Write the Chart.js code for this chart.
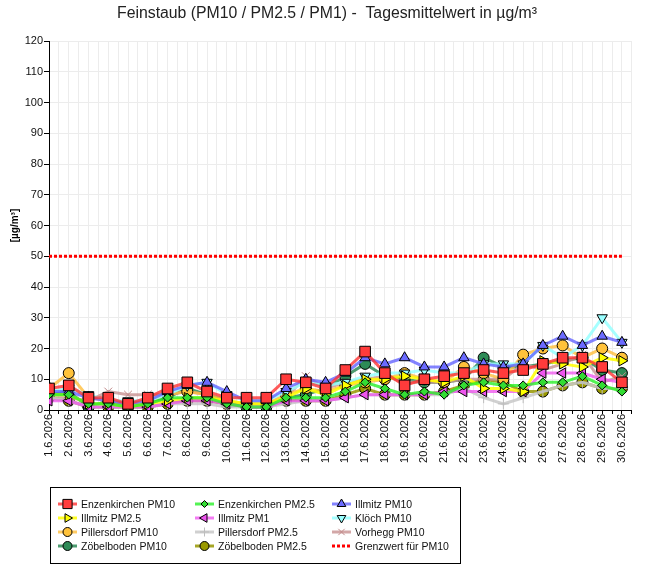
<!DOCTYPE html>
<html>
<head>
<meta charset="utf-8">
<title>Feinstaub</title>
<script src="https://cdn.jsdelivr.net/npm/chart.js@4.4.1/dist/chart.umd.min.js"></script>
<style>
    html, body { margin: 0; padding: 0; background: #fff; }
    #wrap { width: 645px; height: 576px; }
</style>
</head>
<body>
<div id="wrap"><canvas id="myChart" width="645" height="576"></canvas></div>
<script>
// Tick labels (one per day)
const dates = ['1.6.2026', '2.6.2026', '3.6.2026', '4.6.2026', '5.6.2026', '6.6.2026', '7.6.2026', '8.6.2026',
    '9.6.2026', '10.6.2026', '11.6.2026', '12.6.2026', '13.6.2026', '14.6.2026', '15.6.2026', '16.6.2026',
    '17.6.2026', '18.6.2026', '19.6.2026', '20.6.2026', '21.6.2026', '22.6.2026', '23.6.2026', '24.6.2026',
    '25.6.2026', '26.6.2026', '27.6.2026', '28.6.2026', '29.6.2026', '30.6.2026'];

// Tagesmittelwerte in µg/m³
const enzPM10 = [7, 8, 4, 4, 2, 4, 7, 9, 6, 4, 4, 4, 10, 9, 7, 13, 19, 12, 8, 10, 11, 12, 13, 12, 13, 15, 17, 17, 14, 9];
const enzPM25 = [5, 5, 2, 2, 1, 2, 4, 4, 4, 2, 1, 1, 4, 4, 4, 6, 9, 7, 5, 6, 5, 8, 9, 8, 8, 9, 9, 11, 8, 6];
const illPM10 = [6, 6, 4, 3, 2, 3, 6, 8, 9, 6, 3, 3, 7, 10, 9, 12, 17, 15, 17, 14, 14, 17, 15, 14, 15, 21, 24, 21, 24, 22];
const illPM25 = [5, 5, 2, 2, 1, 2, 3, 4, 4, 3, 2, 2, 4, 7, 5, 8, 10, 10, 11, 10, 9, 11, 7, 7, 6, 16, 15, 14, 17, 16];
const illPM1 = [3, 3, 1, 1, 1, 1, 2, 3, 3, 2, 1, 1, 3, 3, 3, 4, 5, 5, 5, 5, 6, 6, 6, 6, 6, 12, 12, 12, 10, 9];
const kloePM10 = [6, 7, 5, 3, 3, 3, 5, 8, 9, 5, 3, 3, 6, 9, 8, 9, 11, 12, 12, 13, 12, 12, 15, 15, 15, 21, 17, 21, 30, 22];
const pilPM10 = [7, 12, 4, 3, 2, 3, 5, 6, 5, 3, 2, 2, 5, 7, 6, 8, 9, 10, 12, 10, 9, 14, 12, 10, 18, 20, 21, 17, 20, 17];
const pilPM25 = [4, 3, 1, 1, 1, 1, 2, 2, 2, 1, 1, 1, 2, 3, 3, 4, 5, 5, 5, 5, 5, 7, 4, 2, 4, 6, 8, 9, 7, 7];
const vorPM10 = [4, 4, 3, 6, 5, 5, 5, 6, 5, 1, 2, 2, 4, 11, 7, 9, 10, 11, 9, 9, 9, 10, 10, 10, 15, 13, 15, 18, 9, 11];
const zoePM10 = [5, 6, 1, 3, 1, 2, 4, 7, 5, 3, 1, 1, 4, 5, 7, 11, 15, 11, 10, 9, 9, 10, 17, 14, 14, 15, 16, 17, 13, 12];
const zoePM25 = [4, 3, 1, 1, 1, 1, 2, 3, 3, 2, 1, 1, 3, 3, 3, 5, 7, 5, 5, 5, 6, 8, 10, 9, 6, 6, 8, 9, 7, 7];
const limitPM10 = 50;

const FONT = '"Liberation Sans", Arial, sans-serif';

function series(label, values, line, fill, style, radius, rotation, pointBorder) {
    return {
        label: label,
        data: values.map((v, i) => ({ x: i, y: v })),
        borderColor: line,
        backgroundColor: fill,
        borderWidth: 3,
        pointStyle: style,
        pointRadius: radius,
        pointRotation: rotation || 0,
        pointBackgroundColor: fill,
        pointBorderColor: pointBorder || '#000',
        pointBorderWidth: 1,
        tension: 0
    };
}

const datasets = [
    series('Enzenkirchen PM10', enzPM10, 'rgba(255,50,50,0.8)', '#ff3b3b', 'rect', 7.5),
    series('Enzenkirchen PM2.5', enzPM25, 'rgba(40,240,40,0.8)', '#33dd33', 'rectRot', 4.5),
    series('Illmitz PM10', illPM10, 'rgba(100,100,255,0.8)', '#6b6bff', 'triangle', 6),
    series('Illmitz PM2.5', illPM25, 'rgba(255,255,0,0.85)', '#ffff00', 'triangle', 6, 90),
    series('Illmitz PM1', illPM1, 'rgba(240,90,240,0.8)', '#ee55ee', 'triangle', 6, -90),
    series('Klöch PM10', kloePM10, 'rgba(150,255,255,0.85)', '#99ffff', 'triangle', 6, 180),
    series('Pillersdorf PM10', pilPM10, 'rgba(255,190,60,0.8)', '#ffc23a', 'circle', 5.5),
    series('Pillersdorf PM2.5', pilPM25, 'rgba(200,200,200,0.85)', '#c8c8c8', 'cross', 5.5, 0, '#bdbdbd'),
    series('Vorhegg PM10', vorPM10, 'rgba(200,145,145,0.8)', '#c89090', 'crossRot', 5.5, 0, '#c08a8a'),
    series('Zöbelboden PM10', zoePM10, 'rgba(46,139,87,0.85)', '#2e8b57', 'circle', 5.5),
    series('Zöbelboden PM2.5', zoePM25, 'rgba(150,150,0,0.85)', '#999900', 'circle', 5.5),
    {
        label: 'Grenzwert für PM10',
        data: [{ x: 0, y: limitPM10 }, { x: dates.length - 1, y: limitPM10 }],
        borderColor: '#ff0000',
        backgroundColor: '#ff0000',
        borderWidth: 3,
        borderDash: [3, 2],
        pointRadius: 0,
        pointStyle: false
    }
];

// Titel und Legende (Kasten mit 3 Spalten) selbst zeichnen
const boxLegend = {
    id: 'boxLegend',
    afterDraw(chart) {
        const ctx = chart.ctx;
        ctx.save();
        ctx.fillStyle = '#222';
        ctx.font = '15.8px ' + FONT;
        ctx.textAlign = 'center';
        ctx.textBaseline = 'middle';
        ctx.fillText('Feinstaub (PM10 / PM2.5 / PM1) -  Tagesmittelwert in µg/m³', 327, 14);

        ctx.strokeStyle = '#000';
        ctx.lineWidth = 1;
        ctx.setLineDash([]);
        ctx.strokeRect(50.5, 487.5, 410, 76);

        const colX = [58, 195, 332];
        const rowY = [504, 518, 532, 546];
        ctx.font = '10.5px ' + FONT;
        ctx.textAlign = 'left';
        chart.data.datasets.forEach((ds, i) => {
            const x = colX[i % 3];
            const y = rowY[Math.floor(i / 3)];
            ctx.strokeStyle = ds.borderColor;
            ctx.lineWidth = 3;
            ctx.setLineDash(ds.borderDash || []);
            ctx.beginPath();
            ctx.moveTo(x, y);
            ctx.lineTo(x + 19, y);
            ctx.stroke();
            ctx.setLineDash([]);
            if (ds.pointStyle) {
                ctx.fillStyle = ds.pointBackgroundColor;
                ctx.strokeStyle = ds.pointBorderColor;
                ctx.lineWidth = 1;
                Chart.helpers.drawPoint(ctx, {
                    pointStyle: ds.pointStyle,
                    radius: ds.pointRadius - 1,
                    rotation: ds.pointRotation,
                    borderWidth: 1
                }, x + 9.5, y);
            }
            ctx.fillStyle = '#111';
            ctx.fillText(ds.label, x + 23, y + 1);
        });
        ctx.restore();
    }
};

const config = {
    type: 'line',
    data: { datasets: datasets },
    options: {
        responsive: false,
        animation: false,
        layout: { padding: { top: 41, right: 12, bottom: 100, left: 0 } },
        scales: {
            x: {
                type: 'linear',
                min: 0,
                max: 29.5,
                afterFit: (scale) => { scale.height = 66; },
                grid: { color: '#ececec', tickColor: '#000', tickLength: 4 },
                border: { color: '#000', width: 1 },
                ticks: {
                    stepSize: 0.5,
                    autoSkip: false,
                    minRotation: 90,
                    maxRotation: 90,
                    padding: 0,
                    color: '#111',
                    font: { family: FONT, size: 11 },
                    callback: (v) => Number.isInteger(v) ? dates[v] : ''
                }
            },
            y: {
                min: 0,
                max: 120,
                afterFit: (scale) => { scale.width = 49; },
                grid: { color: '#ececec', tickColor: '#000', tickLength: 5 },
                border: { color: '#000', width: 1 },
                ticks: {
                    stepSize: 10,
                    padding: 1,
                    color: '#111',
                    font: { family: FONT, size: 11 }
                },
                title: {
                    display: true,
                    text: '[µg/m³]',
                    color: '#000',
                    padding: { top: 9, bottom: 0 },
                    font: { family: FONT, size: 10, weight: 'bold' }
                }
            }
        },
        plugins: {
            legend: { display: false },
            title: { display: false },
            tooltip: { enabled: false }
        }
    },
    plugins: [boxLegend]
};

const myChart = new Chart(document.getElementById('myChart'), config);
</script>
</body>
</html>
